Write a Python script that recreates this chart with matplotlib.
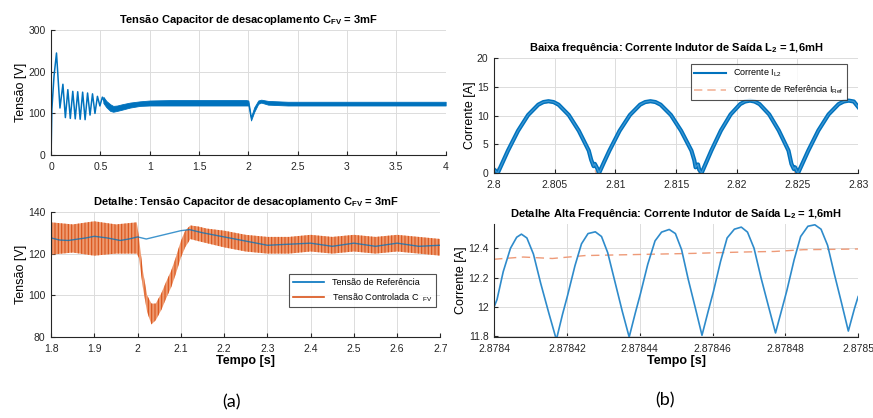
import numpy as np
import matplotlib
matplotlib.use("Agg")
import matplotlib.pyplot as plt

plt.rcParams["font.family"] = ["Liberation Sans", "DejaVu Sans"]
plt.rcParams["mathtext.fontset"] = "custom"
plt.rcParams["mathtext.rm"] = "Liberation Sans"
plt.rcParams["mathtext.bf"] = "Liberation Sans:bold"
plt.rcParams["hatch.linewidth"] = 0.8

BLUE = "#0072BD"
ORANGE = "#D95319"

# --- (a) top: capacitor voltage, full run ---
t_start = [0, 0.008, 0.03, 0.055, 0.09, 0.12, 0.145, 0.17, 0.195, 0.22, 0.245, 0.27,
           0.295, 0.32, 0.345, 0.37, 0.395, 0.42, 0.445, 0.47, 0.495, 0.52, 0.545]
v_start = [0, 110, 190, 245, 113, 170, 90, 157, 88, 153, 87, 152,
           86, 151, 85, 149, 96, 147, 100, 141, 118, 139, 126]
t_band = [0.53, 0.56, 0.6, 0.63, 0.67, 0.72, 0.8, 0.9, 1.0, 1.2, 1.5, 1.8, 1.98, 2.0,
          2.015, 2.027, 2.06, 2.1, 2.13, 2.2, 2.4, 2.7, 3.0, 3.5, 4.0]
v_band_hi = [140, 130, 122, 118, 119, 122, 126, 129, 131, 132, 132, 132, 132, 131,
             110, 92, 115, 131, 133, 130, 128, 128, 128, 128, 128]
v_band_lo = [125, 115, 106, 104, 106, 109, 114, 118, 119, 119, 119, 119, 119, 119,
             98, 83, 104, 123, 126, 121, 119, 119, 119, 119, 119]

# --- (a) bottom: detail 1.8 - 2.7 s ---
t_ctrl = [1.8, 1.85, 1.9, 1.95, 1.998, 2.003, 2.012, 2.022, 2.032, 2.042, 2.055, 2.065,
          2.078, 2.088, 2.1, 2.11, 2.122, 2.14, 2.16, 2.2, 2.25, 2.3, 2.35, 2.4, 2.45,
          2.5, 2.55, 2.6, 2.65, 2.7]
v_ctrl_hi = [135, 134, 135.5, 134, 135, 128, 112, 100, 96, 96, 101, 106,
             112, 118, 126, 131, 133.5, 133, 132, 131, 129, 128, 128, 129, 128,
             129, 128, 129, 128, 127]
v_ctrl_lo = [119.5, 120.5, 119, 120, 120, 118, 104, 92, 86, 88, 93, 98,
             104, 110, 118, 123, 127, 126, 125, 123, 121, 120, 120, 121, 120,
             121, 120, 121, 120, 119]
t_ref = [1.8, 1.82, 1.84, 1.88, 1.9, 1.93, 1.96, 1.98, 2.0, 2.02, 2.04, 2.06, 2.08, 2.1,
         2.12, 2.15, 2.2, 2.25, 2.3, 2.35, 2.4, 2.45, 2.5, 2.55, 2.6, 2.65, 2.7]
v_ref = [127.5, 126.5, 126.3, 127.5, 128.3, 127.5, 126.3, 127, 128, 127, 128, 129, 130, 131,
         131.5, 130, 128, 126, 124, 124.5, 125, 123.5, 125, 123.5, 125, 123.5, 124]

# --- (b) top: inductor current, low frequency ---
t_il = [2.8, 2.8003, 2.80072, 2.80114, 2.80197, 2.8028, 2.80364, 2.80406, 2.80448, 2.8049,
        2.80531, 2.80615, 2.80698, 2.8078, 2.8080, 2.8082, 2.8083, 2.8085, 2.80865,
        2.80907, 2.8095, 2.81034, 2.81119, 2.81203, 2.81245, 2.81288, 2.8133, 2.81372,
        2.81457, 2.81541, 2.81626, 2.8165, 2.8166, 2.8168, 2.8169, 2.8171,
        2.8175, 2.8179, 2.81869, 2.81949, 2.82028, 2.82068, 2.82108, 2.82147, 2.82187,
        2.82267, 2.82346, 2.82426, 2.8245, 2.8247, 2.8248, 2.82495, 2.82505,
        2.82547, 2.82589, 2.82672, 2.82756, 2.82839, 2.82881, 2.82923, 2.82964, 2.83]
i_il = [0.6, 0, 1.95, 3.9, 7.35, 10.1, 11.9, 12.35, 12.5, 12.35,
        11.9, 10.1, 7.35, 3.9, 2.3, 1.2, 1.6, 0.8, 0,
        1.95, 3.9, 7.35, 10.1, 11.9, 12.35, 12.5, 12.35, 11.9,
        10.1, 7.35, 3.9, 2.2, 1.0, 1.5, 0.6, 0,
        1.95, 3.9, 7.4, 10.2, 12.0, 12.45, 12.6, 12.45, 12.0,
        10.2, 7.4, 3.9, 1.6, 0.7, 1.0, 0.3, 0,
        1.95, 3.9, 7.4, 10.2, 12.0, 12.45, 12.6, 12.45, 11.5]
t_iref = [2.8, 2.80072, 2.80114, 2.80197, 2.8028, 2.80364, 2.80406, 2.80448, 2.8049,
          2.80531, 2.80615, 2.80698, 2.8078, 2.8084, 2.80907, 2.8095, 2.81034, 2.81119,
          2.81203, 2.81245, 2.81288, 2.8133, 2.81372, 2.81457, 2.81541, 2.81626, 2.8169,
          2.8175, 2.8179, 2.81869, 2.81949, 2.82028, 2.82068, 2.82108, 2.82147, 2.82187,
          2.82267, 2.82346, 2.82426, 2.8248, 2.82547, 2.82589, 2.82672, 2.82756, 2.82839,
          2.82881, 2.82923, 2.82964, 2.83]
i_iref = [0, 1.9, 3.8, 7.2, 9.9, 11.7, 12.15, 12.3, 12.15,
          11.7, 9.9, 7.2, 3.8, 0, 1.9, 3.8, 7.2, 9.9,
          11.7, 12.15, 12.3, 12.15, 11.7, 9.9, 7.2, 3.8, 0,
          1.9, 3.8, 7.2, 10.0, 11.8, 12.25, 12.4, 12.25, 11.8,
          10.0, 7.2, 3.8, 0, 1.9, 3.8, 7.2, 10.0, 11.8,
          12.25, 12.4, 12.25, 11.3]

# --- (b) bottom: high frequency detail (time offset in microseconds from 2.8784 s) ---
t_hf_us = [0, 0.8, 2.5, 4.5, 6.2, 7.5, 9.0, 10.8, 12.8, 15.0, 17.1, 18.8, 20.2, 22.2,
           24.0, 25.8, 27.8, 29.5, 31.2, 33.2, 35.2, 37.1, 38.8, 40.2, 42.2, 44.2, 46.0,
           48.1, 49.8, 51.5, 53.3, 55.3, 57.1, 58.8, 60.2, 62.2, 64.0, 66.0, 67.9, 69.6,
           71.4, 73.3, 75.3, 77.3, 79.0, 80.4, 82.4, 84.2, 86.2, 88.1, 89.8, 91.6, 93.5,
           95.4, 97.3, 99.0, 100]
i_hf = [12.0, 12.05, 12.24, 12.40, 12.475, 12.496, 12.47, 12.36, 12.16, 11.96, 11.776,
        11.95, 12.08, 12.28, 12.43, 12.50, 12.512, 12.48, 12.37, 12.17, 11.97, 11.794,
        11.96, 12.09, 12.29, 12.45, 12.51, 12.528, 12.50, 12.39, 12.19, 11.99, 11.806,
        11.97, 12.10, 12.31, 12.47, 12.53, 12.544, 12.51, 12.40, 12.20, 12.01, 11.822,
        11.98, 12.11, 12.32, 12.48, 12.55, 12.56, 12.53, 12.42, 12.22, 12.03, 11.835,
        11.99, 12.07]
t_hfref_us = [0, 8, 16, 25, 35, 45, 55, 62, 70, 77, 85, 92, 100]
i_hfref = [12.325, 12.34, 12.33, 12.35, 12.355, 12.36, 12.365, 12.37, 12.375, 12.378,
           12.39, 12.392, 12.395]


def style_axes(ax):
    for s in ["top", "right"]:
        ax.spines[s].set_visible(False)
    for s in ["left", "bottom"]:
        ax.spines[s].set_color("#262626")
        ax.spines[s].set_linewidth(0.8)
    ax.grid(True, color="#DCDCDC", linewidth=0.7)
    ax.set_axisbelow(True)
    ax.tick_params(direction="in", length=3, labelsize=7.5, colors="#262626",
                   top=False, right=False)
    ax.tick_params(axis="x", pad=5)
    ax.tick_params(axis="y", pad=4)


fig = plt.figure(figsize=(8.73, 4.18), dpi=100)

# (a) top
ax1 = fig.add_axes([0.0585, 0.629, 0.452, 0.299])
style_axes(ax1)
ax1.plot(t_start, v_start, color=BLUE, lw=1.1)
ax1.fill_between(t_band, v_band_lo, v_band_hi, color=BLUE, lw=0.6, edgecolor=BLUE)
ax1.set_xlim(0, 4)
ax1.set_ylim(0, 300)
ax1.set_xticks([0, 0.5, 1, 1.5, 2, 2.5, 3, 3.5, 4])
ax1.set_xticklabels(["0", "0.5", "1", "1.5", "2", "2.5", "3", "3.5", "4"])
ax1.set_yticks([0, 100, 200, 300])
ax1.set_ylabel("Tensão [V]", fontsize=9, labelpad=1)
ax1.set_title(r"Tensão Capacitor de desacoplamento C$_{\mathbf{FV}}$ = 3mF", fontsize=8,
              fontweight="bold", pad=5)

# (a) bottom
ax2 = fig.add_axes([0.0585, 0.194, 0.446, 0.299])
style_axes(ax2)
ax2.fill_between(t_ctrl, v_ctrl_lo, v_ctrl_hi, facecolor="#EE9A70", edgecolor=ORANGE,
                 hatch="|||||", lw=0)
ax2.plot(t_ref, v_ref, color=BLUE, lw=1.0, alpha=0.75)
ax2.set_xlim(1.8, 2.7)
ax2.set_ylim(80, 140)
ax2.set_xticks([1.8, 1.9, 2, 2.1, 2.2, 2.3, 2.4, 2.5, 2.6, 2.7])
ax2.set_xticklabels(["1.8", "1.9", "2", "2.1", "2.2", "2.3", "2.4", "2.5", "2.6", "2.7"])
ax2.set_yticks([80, 100, 120, 140])
ax2.set_ylabel("Tensão [V]", fontsize=9, labelpad=1)
ax2.set_xlabel("Tempo [s]", fontsize=9, fontweight="bold", labelpad=1)
ax2.set_title(r"Detalhe: Tensão Capacitor de desacoplamento C$_{\mathbf{FV}}$ = 3mF",
              fontsize=8, fontweight="bold", pad=5)
h_ref, = ax2.plot([], [], color=BLUE, lw=1.2)
h_ctl, = ax2.plot([], [], color=ORANGE, lw=1.2)
leg = ax2.legend([h_ref, h_ctl],
                 ["Tensão de Referência", r"Tensão Controlada C  $_{\mathrm{FV}}$"],
                 loc="lower right", bbox_to_anchor=(1.0, 0.2), fontsize=6.5,
                 frameon=True, fancybox=False, edgecolor="#262626", handlelength=3.5,
                 borderpad=0.4, labelspacing=0.5)
leg.get_frame().set_linewidth(0.8)

# (b) top
ax3 = fig.add_axes([0.566, 0.586, 0.417, 0.275])
style_axes(ax3)
ax3.plot(t_iref, i_iref, color="#F2B49A", lw=1.0, ls=(0, (5, 3)))
ax3.plot(t_il, i_il, color=BLUE, lw=3.0)
ax3.plot(t_il, i_il, color="#3D97D3", lw=0.9)
ax3.set_xlim(2.8, 2.83)
ax3.set_ylim(0, 20)
ax3.set_xticks([2.8, 2.805, 2.81, 2.815, 2.82, 2.825, 2.83])
ax3.set_xticklabels(["2.8", "2.805", "2.81", "2.815", "2.82", "2.825", "2.83"])
ax3.set_yticks([0, 5, 10, 15, 20])
ax3.set_ylabel("Corrente [A]", fontsize=9, labelpad=1)
ax3.set_title(r"Baixa frequência: Corrente Indutor de Saída L$_{\mathbf{2}}$ = 1,6mH",
              fontsize=8, fontweight="bold", pad=5)
h_il, = ax3.plot([], [], color=BLUE, lw=1.5)
h_ir, = ax3.plot([], [], color="#F2B49A", lw=1.2, ls=(0, (5, 3)))
leg3 = ax3.legend([h_il, h_ir],
                  [r"Corrente I$_{\mathrm{L2}}$", r"Corrente de Referência I$_{\mathrm{Ref}}$"],
                  loc="upper right", bbox_to_anchor=(0.982, 0.985), fontsize=6.5,
                  frameon=True, fancybox=False, edgecolor="#262626", handlelength=3.5,
                  borderpad=0.4, labelspacing=0.5)
leg3.get_frame().set_linewidth(0.8)

# (b) bottom
ax4 = fig.add_axes([0.566, 0.194, 0.417, 0.270])
style_axes(ax4)
x_hf = 2.8784 + np.array(t_hf_us) * 1e-6
x_hfref = 2.8784 + np.array(t_hfref_us) * 1e-6
ax4.plot(x_hfref, i_hfref, color="#EE9A78", lw=1.0, ls=(0, (6, 4)))
ax4.plot(x_hf, i_hf, color="#2E8BCB", lw=1.2)
ax4.set_xlim(2.8784, 2.8785)
ax4.set_ylim(11.795, 12.565)
ax4.set_xticks([2.8784, 2.87842, 2.87844, 2.87846, 2.87848, 2.8785])
ax4.set_xticklabels(["2.8784", "2.87842", "2.87844", "2.87846", "2.87848", "2.8785"])
ax4.set_yticks([11.8, 12, 12.2, 12.4])
ax4.set_yticklabels(["11.8", "12", "12.2", "12.4"])
ax4.set_ylabel("Corrente [A]", fontsize=9, labelpad=1)
ax4.set_xlabel("Tempo [s]", fontsize=9, fontweight="bold", labelpad=1)
ax4.set_title(r"Detalhe Alta Frequência: Corrente Indutor de Saída L$_{\mathbf{2}}$ = 1,6mH",
              fontsize=8, fontweight="bold", pad=5)

fig.text(0.265, 0.025, "(a)", fontsize=13, family="Lato", ha="center")
fig.text(0.762, 0.03, "(b)", fontsize=13, family="Lato", ha="center")

fig.savefig("out.png", dpi=100)
